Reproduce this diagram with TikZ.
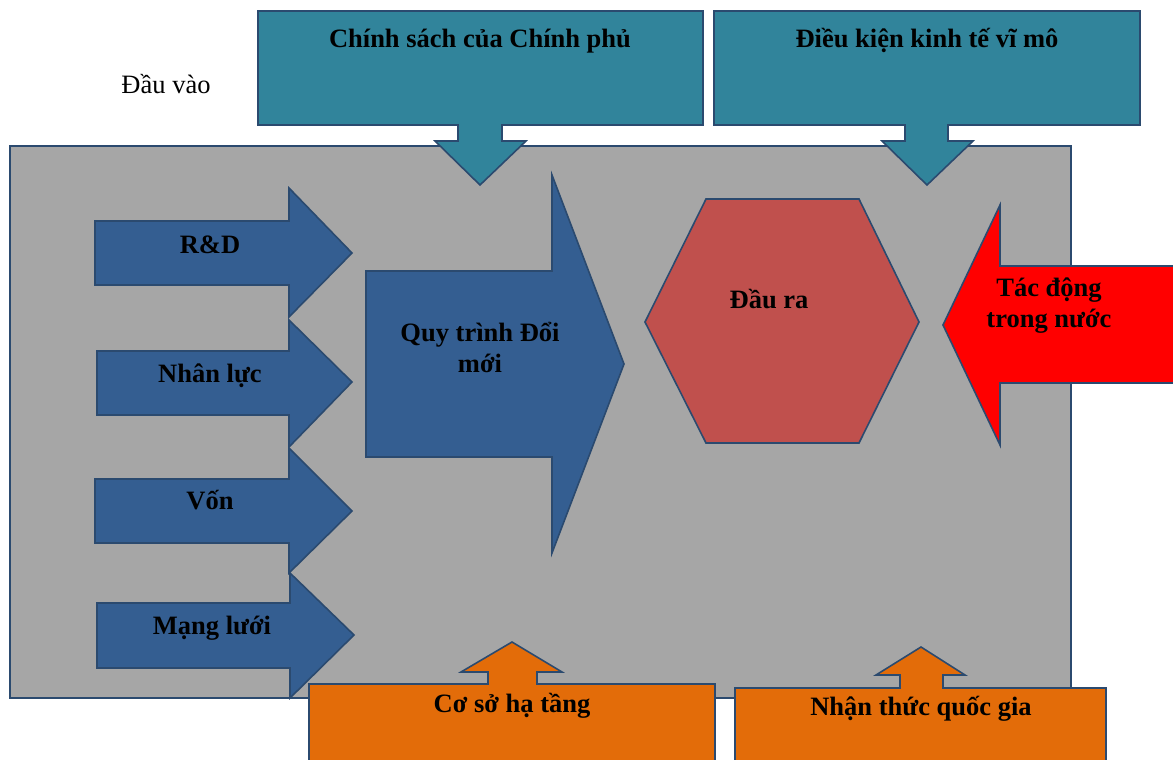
\documentclass[tikz,border=0pt]{standalone}
\usepackage{fontspec}
\setmainfont{Liberation Serif}
\definecolor{bggray}{HTML}{A6A6A6}
\definecolor{edge}{HTML}{2B4A6F}
\definecolor{navy}{HTML}{345E91}
\definecolor{teal}{HTML}{31849B}
\definecolor{orng}{HTML}{E36C09}
\definecolor{hexred}{HTML}{C0504D}
\definecolor{brightred}{HTML}{FF0000}
\tikzset{
  shp/.style={draw=edge, line width=1.6pt, line join=miter},
  lbl/.style={font=\fontsize{26.5}{30.5}\selectfont\bfseries, inner sep=0pt, anchor=base, align=center},
  plain/.style={font=\fontsize{26.5}{30.5}\selectfont, inner sep=0pt, anchor=base}
}
\begin{document}
\begin{tikzpicture}[x=1pt,y=-1pt]
\useasboundingbox (0,0) rectangle (1173,760);
% main gray panel
\draw[shp, fill=bggray] (10,146) rectangle (1071,698);
% top teal callouts
\draw[shp, fill=teal] (258,11) -- (703,11) -- (703,125) -- (502,125) -- (502,141) -- (526,141) -- (480,185) -- (435,141) -- (458,141) -- (458,125) -- (258,125) -- cycle;
\draw[shp, fill=teal] (714,11) -- (1140,11) -- (1140,125) -- (948,125) -- (948,141) -- (973,141) -- (927,185) -- (882,141) -- (905,141) -- (905,125) -- (714,125) -- cycle;
% left input arrows
\draw[shp, fill=navy] (95,221) -- (289,221) -- (289,188) -- (352,253) -- (289,317) -- (289,285) -- (95,285) -- cycle;
\draw[shp, fill=navy] (97,351) -- (289,351) -- (289,320) -- (352,382) -- (289,447) -- (289,415) -- (97,415) -- cycle;
\draw[shp, fill=navy] (95,479) -- (289,479) -- (289,448) -- (352,511) -- (289,573) -- (289,543) -- (95,543) -- cycle;
\draw[shp, fill=navy] (97,603) -- (290,603) -- (290,573) -- (354,635) -- (290,698) -- (290,668) -- (97,668) -- cycle;
% big process arrow
\draw[shp, fill=navy] (366,271) -- (552,271) -- (552,175) -- (624,364) -- (552,553) -- (552,457) -- (366,457) -- cycle;
% hexagon
\draw[shp, fill=hexred] (706,199) -- (859,199) -- (919,322) -- (859,443) -- (706,443) -- (645,322) -- cycle;
% red domestic arrow
\draw[shp, fill=brightred] (1185,266) -- (1000,266) -- (1000,205) -- (943,325) -- (1000,445) -- (1000,383) -- (1185,383) -- cycle;
% bottom orange callouts
\draw[shp, fill=orng] (309,770) -- (309,684) -- (488,684) -- (488,672) -- (461,672) -- (512,642) -- (562,672) -- (537,672) -- (537,684) -- (715,684) -- (715,770) -- cycle;
\draw[shp, fill=orng] (735,770) -- (735,688) -- (900,688) -- (900,675) -- (876,675) -- (921,647) -- (965,675) -- (943,675) -- (943,688) -- (1106,688) -- (1106,770) -- cycle;
% labels
\node[plain] (input) at (166,94) {Đầu vào};
\node[lbl] (gov) at (480,48) {Chính sách của Chính phủ};
\node[lbl] (macro) at (927,48) {Điều kiện kinh tế vĩ mô};
\node[lbl] (rd) at (210,253) {R\&D};
\node[lbl] (hr) at (210,382) {Nhân lực};
\node[lbl] (cap) at (210,509) {Vốn};
\node[lbl] (net) at (212,634) {Mạng lưới};
\node[lbl] (proc) at (480,372) {Quy trình Đổi\\mới};
\node[lbl] (out) at (769,308) {Đầu ra};
\node[lbl] (dom) at (1049,327) {Tác động\\trong nước};
\node[lbl] (infra) at (512,712) {Cơ sở hạ tầng};
\node[lbl] (aware) at (921,715) {Nhận thức quốc gia};
\end{tikzpicture}
\end{document}
